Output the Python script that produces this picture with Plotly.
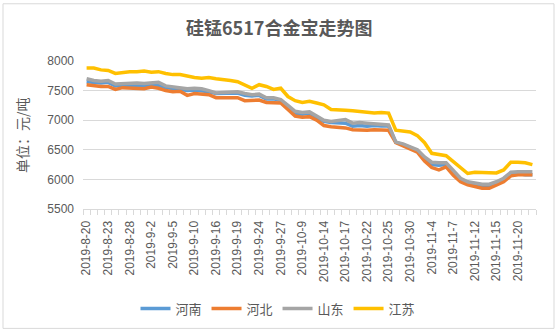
import plotly.graph_objects as go

# Trading days shown on the category axis
dates = [
    "2019-8-20", "2019-8-21", "2019-8-22", "2019-8-23", "2019-8-26", "2019-8-27",
    "2019-8-28", "2019-8-29", "2019-8-30", "2019-9-2", "2019-9-3", "2019-9-4",
    "2019-9-5", "2019-9-6", "2019-9-9", "2019-9-10", "2019-9-11", "2019-9-12",
    "2019-9-16", "2019-9-17", "2019-9-18", "2019-9-19", "2019-9-20", "2019-9-23",
    "2019-9-24", "2019-9-25", "2019-9-26", "2019-9-27", "2019-9-30", "2019-10-8",
    "2019-10-9", "2019-10-10", "2019-10-11", "2019-10-14", "2019-10-15", "2019-10-16",
    "2019-10-17", "2019-10-18", "2019-10-21", "2019-10-22", "2019-10-23", "2019-10-24",
    "2019-10-25", "2019-10-28", "2019-10-29", "2019-10-30", "2019-10-31", "2019-11-1",
    "2019-11-4", "2019-11-5", "2019-11-6", "2019-11-7", "2019-11-8", "2019-11-11",
    "2019-11-12", "2019-11-13", "2019-11-14", "2019-11-15", "2019-11-18", "2019-11-19",
    "2019-11-20", "2019-11-21", "2019-11-22",
]

henan = [
    7650, 7640, 7630, 7640, 7580, 7590, 7580, 7590, 7580, 7600, 7590, 7550,
    7530, 7510, 7500, 7510, 7500, 7480, 7450, 7450, 7460, 7460, 7420, 7410,
    7420, 7360, 7360, 7330, 7220, 7120, 7100, 7120, 7050, 6980, 6960, 6950,
    6950, 6900, 6910, 6900, 6910, 6900, 6900, 6630, 6590, 6540, 6480, 6350,
    6250, 6240, 6250, 6120, 6000, 5940, 5910, 5890, 5890, 5940, 5990, 6090,
    6100, 6080, 6080,
]
hebei = [
    7600, 7580, 7570, 7570, 7520, 7550, 7540, 7530, 7530, 7560, 7540, 7500,
    7480, 7490, 7420, 7450, 7440, 7430, 7380, 7380, 7390, 7380, 7330, 7340,
    7340, 7300, 7300, 7290, 7180, 7070, 7050, 7060, 7000, 6910, 6890, 6880,
    6870, 6840, 6830, 6830, 6840, 6840, 6830, 6620, 6570, 6520, 6460, 6310,
    6200, 6160, 6210, 6070, 5960, 5910, 5880, 5850, 5850, 5900, 5960, 6060,
    6080, 6080, 6080,
]
shandong = [
    7700, 7670, 7660, 7670, 7610, 7620, 7630, 7630, 7620, 7630, 7640, 7580,
    7560, 7540, 7530, 7540, 7530, 7500, 7460, 7470, 7470, 7480, 7450, 7430,
    7440, 7380, 7380, 7350, 7250, 7150, 7130, 7140, 7070, 7000, 6980, 6990,
    7010, 6950, 6960, 6950, 6940, 6940, 6920, 6630, 6600, 6550, 6500, 6380,
    6290, 6280, 6280, 6150, 6020, 5960, 5940, 5920, 5920, 5960, 6020, 6120,
    6130, 6130, 6130,
]
jiangsu = [
    7880, 7880, 7850, 7840, 7790, 7810, 7820, 7820, 7830, 7810, 7820, 7790,
    7770, 7770, 7740, 7720, 7710, 7720, 7700, 7690, 7670, 7650, 7600, 7540,
    7600, 7570, 7520, 7540, 7400, 7330, 7300, 7320, 7290, 7260, 7180, 7180,
    7170, 7160, 7150, 7130, 7120, 7130, 7120, 6830, 6820, 6800, 6740, 6620,
    6440, 6420, 6400, 6300, 6200, 6100, 6120, 6120, 6110, 6110, 6160, 6290,
    6290, 6280, 6250,
]

series = [
    ("河南", henan, "#5B9BD5"),
    ("河北", hebei, "#ED7D31"),
    ("山东", shandong, "#A5A5A5"),
    ("江苏", jiangsu, "#FFC000"),
]

label_step = 3
y_ticks = [5500, 6000, 6500, 7000, 7500, 8000]

W, H = 558, 336
L, R, T, B = 83, 22, 61, 125
pw, ph = W - L - R, H - T - B


def px(x):
    return (x - L) / pw


def py(y):
    return (H - B - y) / ph


FONT = "Liberation Sans, Noto Sans CJK SC, sans-serif"
TXT = "#595959"

idx = list(range(len(dates)))
fig = go.Figure()
for name, vals, color in series:
    fig.add_trace(go.Scatter(
        x=idx, y=vals, name=name, mode="lines",
        line=dict(color=color, width=3.5),
    ))

fig.update_layout(
    width=W, height=H,
    margin=dict(l=L, r=R, t=T, b=B, pad=0),
    paper_bgcolor="white", plot_bgcolor="white",
    font=dict(family=FONT, size=12, color=TXT),
    showlegend=True,
    legend=dict(
        orientation="h", x=px(278), xanchor="center", y=py(312), yanchor="middle",
        font=dict(size=13, color=TXT), itemwidth=30, tracegroupgap=0,
        bgcolor="rgba(0,0,0,0)",
    ),
    xaxis=dict(
        range=[-0.5, len(dates) - 0.5],
        tickmode="array",
        tickvals=idx[::label_step],
        ticktext=dates[::label_step],
        tickangle=-90,
        ticks="",
        ticklabelstandoff=6,
        showgrid=False, zeroline=False,
        showline=True, linecolor="#D9D9D9", linewidth=1,
        tickfont=dict(size=12, color=TXT),
        minor=dict(tickmode="linear", tick0=-0.5, dtick=1, ticks="outside",
                   ticklen=5, tickcolor="#D9D9D9", tickwidth=1, showgrid=False),
    ),
    yaxis=dict(
        range=[5500, 8000],
        tickmode="array", tickvals=y_ticks,
        ticks="", ticklabelstandoff=8,
        showgrid=True, gridcolor="#D9D9D9", gridwidth=1,
        zeroline=False, showline=False,
        tickfont=dict(size=12, color=TXT),
    ),
    annotations=[
        dict(text="<b>硅锰6517合金宝走势图</b>", x=px(279), y=py(27),
             xref="paper", yref="paper", showarrow=False,
             xanchor="center", yanchor="middle",
             font=dict(size=18, color=TXT, family="Noto Sans CJK SC, sans-serif")),
        dict(text="单位：元/吨", x=px(22), y=py(136),
             xref="paper", yref="paper", showarrow=False, textangle=-90,
             xanchor="center", yanchor="middle",
             font=dict(size=14, color=TXT, family="Noto Sans CJK SC, sans-serif")),
    ],
    shapes=[
        dict(type="rect", xref="paper", yref="paper",
             x0=px(3), x1=px(554), y0=py(3), y1=py(332),
             line=dict(color="#D9D9D9", width=1), fillcolor="rgba(0,0,0,0)",
             layer="below"),
    ],
)

fig.write_html("out.html")
